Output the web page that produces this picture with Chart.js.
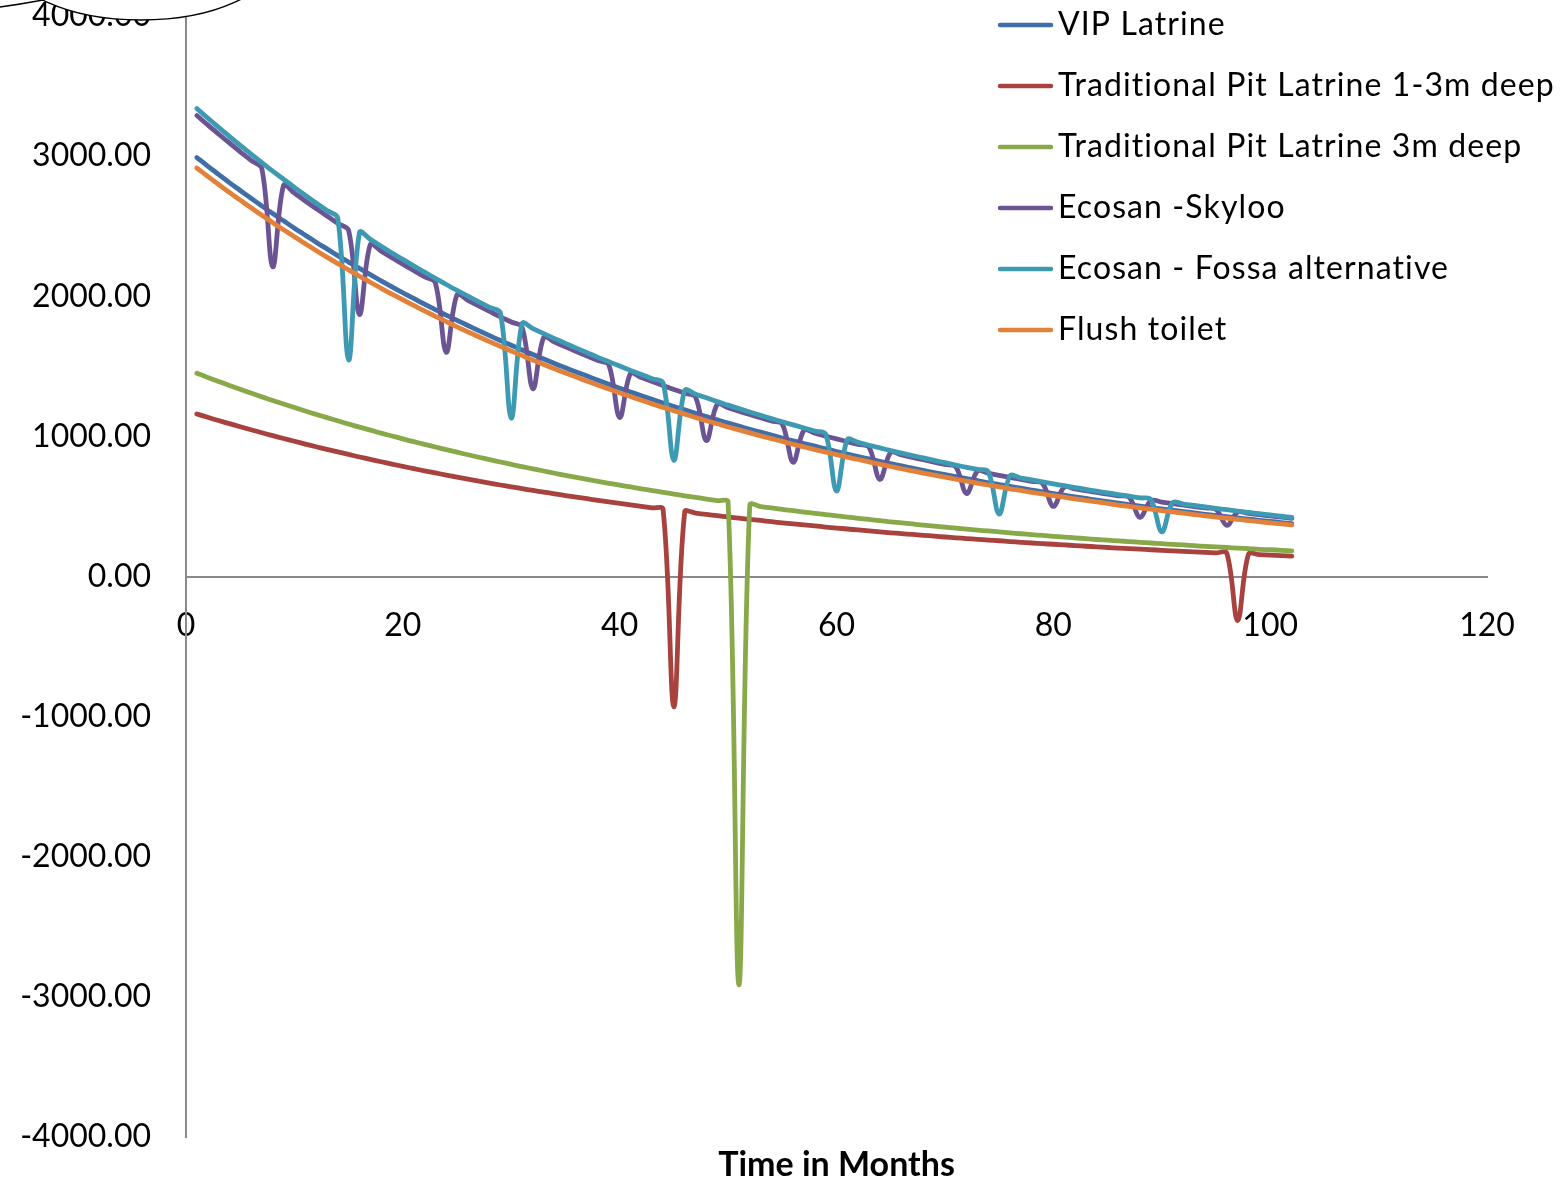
<!DOCTYPE html>
<html>
<head>
<meta charset="utf-8">
<script src="https://cdn.jsdelivr.net/npm/chart.js@4.4.1/dist/chart.umd.min.js"></script>
<style>
  html, body { margin: 0; padding: 0; background: #fff; }
  #wrap { width: 1565px; height: 1182px; }
</style>
</head>
<body>
<div id="wrap"><canvas id="myChart" width="1565" height="1182"></canvas></div>
<script>
// months 1..102
const months = [
  1, 2, 3, 4, 5, 6, 7, 8, 9, 10,
  11, 12, 13, 14, 15, 16, 17, 18, 19, 20,
  21, 22, 23, 24, 25, 26, 27, 28, 29, 30,
  31, 32, 33, 34, 35, 36, 37, 38, 39, 40,
  41, 42, 43, 44, 45, 46, 47, 48, 49, 50,
  51, 52, 53, 54, 55, 56, 57, 58, 59, 60,
  61, 62, 63, 64, 65, 66, 67, 68, 69, 70,
  71, 72, 73, 74, 75, 76, 77, 78, 79, 80,
  81, 82, 83, 84, 85, 86, 87, 88, 89, 90,
  91, 92, 93, 94, 95, 96, 97, 98, 99, 100,
  101, 102
];

const vipLatrine = [
  2990, 2929, 2870, 2811, 2755, 2699, 2644, 2590, 2538, 2486,
  2436, 2386, 2338, 2290, 2244, 2199, 2154, 2110, 2067, 2025,
  1984, 1944, 1905, 1866, 1828, 1791, 1755, 1719, 1684, 1650,
  1617, 1584, 1552, 1520, 1489, 1459, 1430, 1401, 1372, 1344,
  1317, 1290, 1264, 1238, 1213, 1189, 1165, 1141, 1118, 1095,
  1073, 1051, 1030, 1009, 988, 968, 949, 930, 911, 892,
  874, 856, 839, 822, 805, 789, 773, 757, 742, 727,
  712, 698, 684, 669, 656, 643, 630, 617, 604, 592,
  580, 568, 557, 545, 534, 524, 513, 503, 492, 482,
  473, 463, 454, 444, 435, 427, 418, 409, 401, 393,
  385, 377
];

const pitShallow = [
  1160, 1136, 1113, 1091, 1069, 1047, 1026, 1005, 985, 965,
  945, 926, 907, 889, 871, 853, 836, 819, 802, 786,
  770, 754, 739, 724, 709, 695, 681, 667, 653, 640,
  627, 614, 602, 590, 578, 566, 555, 543, 532, 522,
  511, 501, 490, 480, -930, 461, 452, 443, 434, 425,
  416, 408, 400, 391, 383, 376, 368, 361, 353, 346,
  339, 332, 325, 319, 312, 306, 300, 294, 288, 282,
  276, 271, 265, 260, 255, 249, 244, 239, 234, 230,
  225, 221, 216, 212, 207, 203, 199, 195, 191, 187,
  183, 180, 176, 172, 169, 166, -315, 159, 156, 152,
  149, 146
];

const pitDeep = [
  1450, 1421, 1392, 1363, 1336, 1309, 1282, 1256, 1231, 1206,
  1181, 1157, 1134, 1111, 1088, 1066, 1045, 1023, 1003, 982,
  962, 943, 924, 905, 887, 869, 851, 834, 817, 800,
  784, 768, 753, 737, 722, 708, 693, 679, 665, 652,
  639, 626, 613, 601, 588, 576, 565, 553, 542, 531,
  -2915, 510, 499, 489, 479, 470, 460, 451, 442, 433,
  424, 415, 407, 399, 390, 383, 375, 367, 360, 352,
  345, 338, 331, 325, 318, 312, 305, 299, 293, 287,
  281, 276, 270, 264, 259, 254, 249, 244, 239, 234,
  229, 225, 220, 215, 211, 207, 203, 199, 194, 191,
  187, 183
];

const ecosanSkyloo = [
  3290, 3223, 3158, 3094, 3031, 2970, 2909, 2210, 2792, 2736,
  2680, 2626, 2572, 2520, 2469, 1870, 2370, 2322, 2275, 2229,
  2184, 2139, 2096, 1600, 2012, 1971, 1931, 1892, 1853, 1816,
  1779, 1340, 1708, 1673, 1639, 1606, 1573, 1541, 1510, 1135,
  1449, 1420, 1391, 1363, 1335, 1308, 1281, 970, 1230, 1205,
  1180, 1156, 1133, 1110, 1088, 815, 1044, 1023, 1002, 982,
  962, 942, 923, 693, 886, 868, 850, 833, 816, 800,
  783, 592, 752, 737, 722, 707, 693, 679, 665, 500,
  638, 625, 613, 600, 588, 576, 565, 422, 542, 531,
  520, 510, 499, 489, 479, 365, 460, 450, 441, 432,
  424, 415
];

const ecosanFossa = [
  3340, 3272, 3206, 3141, 3077, 3015, 2954, 2893, 2835, 2777,
  2721, 2666, 2612, 2558, 1545, 2456, 2406, 2357, 2309, 2263,
  2217, 2172, 2128, 2084, 2042, 2001, 1960, 1921, 1881, 1130,
  1806, 1769, 1733, 1698, 1664, 1630, 1597, 1564, 1533, 1502,
  1471, 1441, 1412, 1383, 830, 1328, 1301, 1275, 1248, 1223,
  1198, 1174, 1150, 1127, 1104, 1082, 1060, 1038, 1017, 610,
  976, 957, 937, 918, 899, 881, 863, 846, 829, 812,
  795, 779, 764, 748, 445, 718, 703, 689, 675, 661,
  648, 635, 622, 609, 597, 585, 573, 561, 550, 318,
  528, 517, 507, 496, 486, 477, 467, 457, 448, 439,
  430, 421
];

const flushToilet = [
  2915, 2856, 2798, 2741, 2686, 2631, 2578, 2525, 2474, 2424,
  2375, 2326, 2279, 2233, 2188, 2143, 2100, 2057, 2015, 1975,
  1935, 1895, 1857, 1819, 1782, 1746, 1711, 1676, 1642, 1609,
  1576, 1544, 1513, 1482, 1452, 1423, 1394, 1365, 1338, 1311,
  1284, 1258, 1232, 1207, 1183, 1159, 1135, 1112, 1090, 1067,
  1046, 1025, 1004, 984, 964, 944, 925, 906, 888, 870,
  852, 835, 818, 801, 785, 769, 754, 738, 723, 709,
  694, 680, 666, 653, 640, 626, 614, 601, 589, 577,
  566, 554, 543, 532, 521, 510, 500, 490, 480, 470,
  461, 452, 442, 433, 424, 416, 408, 399, 391, 383,
  375, 368
];

const FONT = 'Lato';
const AXIS_GRAY = '#8a8a8a';

// legend (inside plot, top right) and the clipped callout oval at top left
const extrasPlugin = {
  id: 'extras',
  afterDraw(chart) {
    const ctx = chart.ctx;
    ctx.save();
    ctx.lineCap = 'round';
    ctx.font = '32px ' + FONT;
    ctx.textBaseline = 'middle';
    ctx.textAlign = 'left';
    ctx.letterSpacing = '1.1px';
    chart.data.datasets.forEach((ds, i) => {
      const y = 25 + i * 61;
      ctx.strokeStyle = ds.borderColor;
      ctx.lineWidth = 4.5;
      ctx.beginPath();
      ctx.moveTo(1000, y);
      ctx.lineTo(1051, y);
      ctx.stroke();
      ctx.fillStyle = '#000';
      ctx.fillText(ds.label, 1058, y);
    });
    ctx.letterSpacing = '0px';

    ctx.beginPath();
    ctx.ellipse(141, -40, 132, 60, 0, 0, Math.PI * 2);
    ctx.fillStyle = '#fff';
    ctx.fill();
    ctx.strokeStyle = '#000';
    ctx.lineWidth = 1.5;
    ctx.stroke();
    ctx.beginPath();
    ctx.moveTo(0, 7);
    ctx.quadraticCurveTo(22, 4, 43, 0);
    ctx.stroke();
    ctx.restore();
  }
};

const ctx = document.getElementById('myChart');
new Chart(ctx, {
  type: 'line',
  data: {
    labels: months,
    datasets: [
      { label: 'VIP Latrine', data: vipLatrine, borderColor: '#3F6EA8', order: 6 },
      { label: 'Traditional Pit Latrine 1-3m deep', data: pitShallow, borderColor: '#A8423F', order: 5 },
      { label: 'Traditional Pit Latrine 3m deep', data: pitDeep, borderColor: '#88A94A', order: 4 },
      { label: 'Ecosan -Skyloo', data: ecosanSkyloo, borderColor: '#6B5494', order: 3 },
      { label: 'Ecosan - Fossa alternative', data: ecosanFossa, borderColor: '#3D9AB2', order: 2 },
      { label: 'Flush toilet', data: flushToilet, borderColor: '#E2823A', order: 1 }
    ]
  },
  options: {
    responsive: false,
    animation: false,
    layout: { padding: { left: 0, right: 78, top: 0, bottom: 0 } },
    elements: {
      point: { radius: 0 },
      line: {
        borderWidth: 4.8,
        tension: 0.35,
        fill: false,
        borderCapStyle: 'round',
        borderJoinStyle: 'round'
      }
    },
    plugins: {
      legend: { display: false },
      tooltip: { enabled: false },
      title: {
        display: true,
        position: 'bottom',
        fullSize: false,
        text: 'Time in Months',
        color: '#000',
        font: { family: FONT, size: 34, weight: 'bold', lineHeight: 1 },
        padding: { top: 11, bottom: 0 }
      }
    },
    scales: {
      x: {
        type: 'linear',
        position: { y: 0 },
        min: 0,
        max: 120,
        grid: { display: false, drawTicks: false },
        border: { display: true, color: AXIS_GRAY, width: 2 },
        ticks: {
          stepSize: 20,
          padding: 30,
          color: '#000',
          maxRotation: 0,
          font: { family: FONT, size: 32 }
        }
      },
      y: {
        min: -4000,
        max: 4000,
        grid: { display: false, drawTicks: false },
        border: { display: true, color: AXIS_GRAY, width: 2 },
        ticks: {
          stepSize: 1000,
          padding: 35,
          color: '#000',
          font: { family: FONT, size: 32, lineHeight: 1 },
          callback: v => v.toFixed(2)
        },
        afterFit: s => {
          s.width = 186;
          s.paddingTop = 16;
          s.paddingBottom = 16;
        }
      }
    }
  },
  plugins: [extrasPlugin]
});
</script>
</body>
</html>
